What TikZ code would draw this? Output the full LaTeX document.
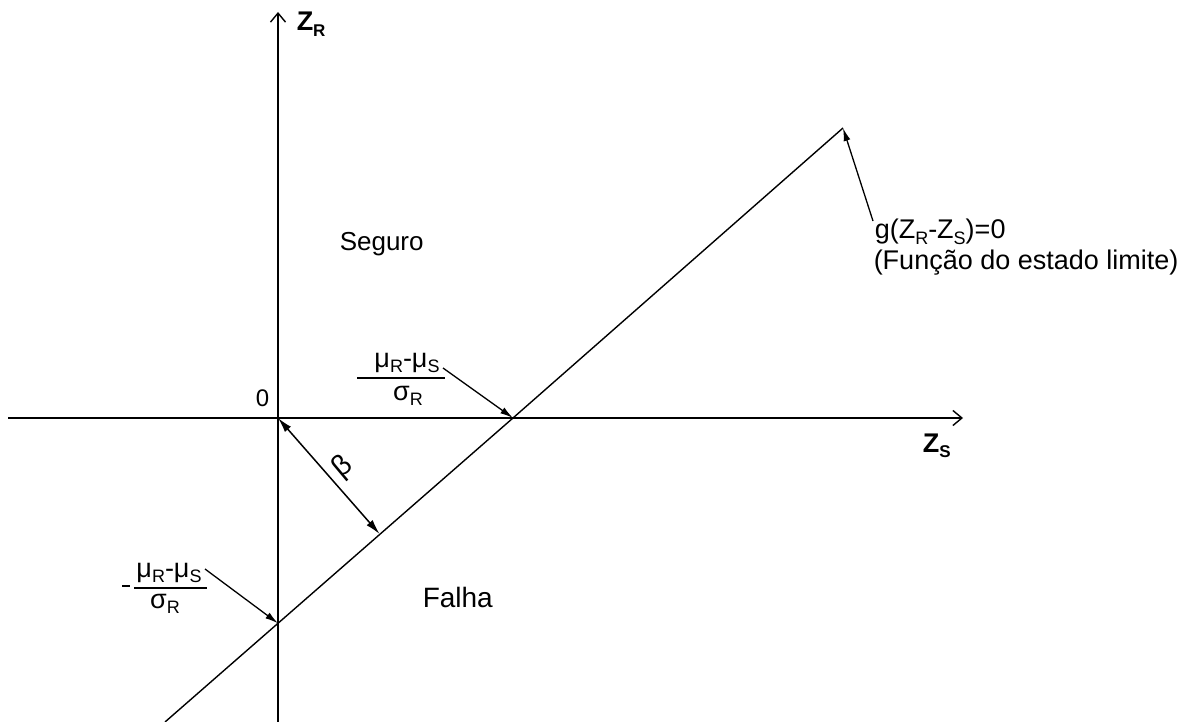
\documentclass[tikz,border=0pt]{standalone}
\usepackage{fontspec}
\setmainfont{Liberation Sans}
\usetikzlibrary{arrows.meta,calc}
\newcommand{\fs}[1]{\fontsize{#1}{#1}\selectfont}
\newcommand{\sbx}[2][18]{\raisebox{-0.2em}{\fs{#1}#2}}
\begin{document}
\begin{tikzpicture}[x=1pt,y=-1pt,
  line width=1.5pt,
  axis/.style={line width=1.6pt,-{Straight Barb[length=9pt,width=15pt,line width=1.4pt]}},
  lead/.style={line width=1.3pt,-{Latex[length=13pt,width=7pt]}},
  dbl/.style={line width=1.5pt,{Latex[length=15pt,width=8pt]}-{Latex[length=15pt,width=8pt]}},
  bar/.style={line width=1.6pt},
  lbl/.style={inner sep=0pt,anchor=base west},
  fr/.style={inner sep=0pt,anchor=base,font=\fs{27}}]
\useasboundingbox (0,0) rectangle (1203,722);
% axes
\coordinate (O) at (278,418);
\coordinate (ytop) at (278,12);
\coordinate (ybot) at (278,722);
\coordinate (xleft) at (8,418);
\coordinate (xright) at (963,418);
\draw[axis] (ybot) -- (ytop);
\draw[axis] (xleft) -- (xright);
% limit state line
\coordinate (L) at (165,722);
\coordinate (A) at (513,418);
\coordinate (T) at (843,128);
\coordinate (B) at (278,623.3);
\draw[line width=1.4pt] (L) -- (A) -- (T);
% beta
\coordinate (F) at ($(L)!(O)!(T)$);
\draw[dbl] (O) -- (F);
\node[inner sep=0pt,rotate=40] (beta) at (343,467) {\fs{29}β};
% labels
\node[lbl] (zr) at (296,31) {\fs{27}\bfseries Z\sbx[17]{R}};
\node[lbl] (zs) at (922,452) {\fs{27}\bfseries Z\sbx[17]{S}};
\node[lbl] (zero) at (255,406) {\fs{24}0};
\node[lbl] (seg) at (339,251) {\fs{26}Seguro};
\node[lbl] (fal) at (422,607) {\fs{28}Falha};
\node[lbl] (g1) at (874,239) {\fs{27}g(Z\sbx{R}-Z\sbx{S})=0};
\node[lbl] (g2) at (873,270) {\fs{27}(Função do estado limite)};
\coordinate (gt) at (873,221);
\draw[lead] (gt) -- (T);
% upper fraction
\node[fr] (n1) at (407,367) {μ\sbx{R}-μ\sbx{S}};
\node[fr] (d1) at (408,400) {σ\sbx{R}};
\coordinate (b1l) at (357,378);
\coordinate (b1r) at (445,378);
\draw[bar] (b1l) -- (b1r);
\coordinate (f1t) at (443,368);
\draw[lead] (f1t) -- (A);
% lower fraction
\node[fr] (n2) at (169,577) {μ\sbx{R}-μ\sbx{S}};
\node[fr] (d2) at (165,608) {σ\sbx{R}};
\coordinate (b2l) at (134,588);
\coordinate (b2r) at (207,588);
\draw[bar] (b2l) -- (b2r);
\coordinate (m2l) at (122,586);
\coordinate (m2r) at (130,586);
\draw[line width=1.6pt] (m2l) -- (m2r);
\coordinate (f2t) at (205,569);
\draw[lead] (f2t) -- (B);
\end{tikzpicture}
\end{document}
